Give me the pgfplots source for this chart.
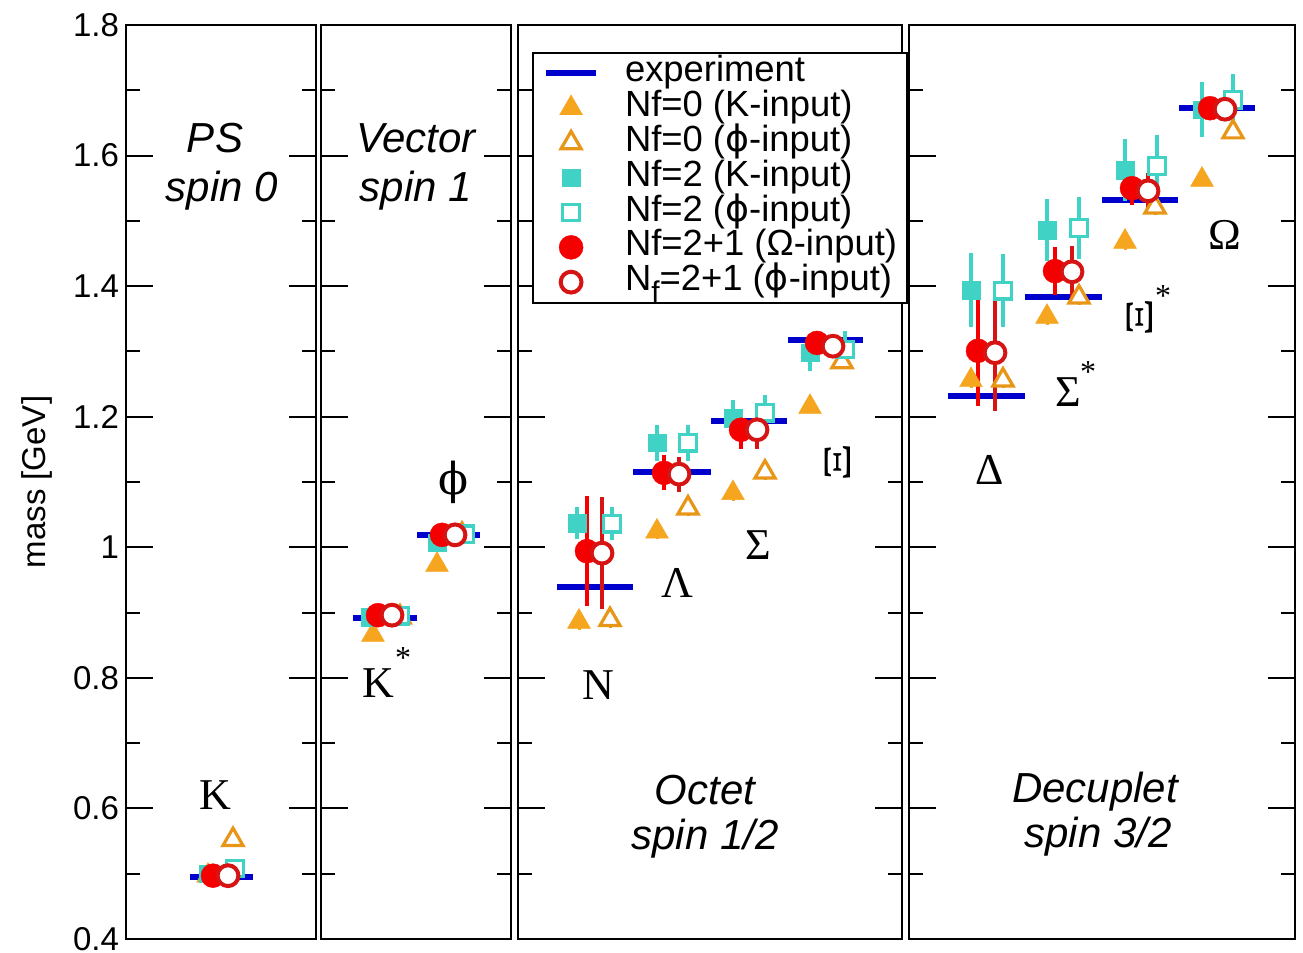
\documentclass[border=0pt]{standalone}
\usepackage{pgfplots}
\pgfplotsset{compat=1.18}
\usepackage{fontspec}
\setmainfont{Liberation Sans}
\newfontfamily\grk{Liberation Serif}
\newfontfamily\djv{DejaVu Sans}
\newfontfamily\djvs{DejaVu Serif}
\definecolor{expblue}{RGB}{0,0,205}
\definecolor{orng}{RGB}{245,165,30}
\definecolor{orngd}{RGB}{232,150,24}
\definecolor{turq}{RGB}{64,210,196}
\definecolor{rd}{RGB}{245,0,0}
\definecolor{rdd}{RGB}{215,20,20}
\pgfplotsset{
  panel/.style={scale only axis, height=457pt, ymin=0.4, ymax=1.8, xtick=\empty,
    ytick={0.4,0.6,0.8,1.0,1.2,1.4,1.6,1.8},
    minor ytick={0.5,0.7,0.9,1.1,1.3,1.5,1.7},
    yticklabels={,,,,,,,}, ytick pos=both, tick align=inside,
    major tick length=13.5pt, minor tick length=7pt,
    axis line style={line width=1pt}, tick style={black, line width=1pt},
    clip=false, anchor=south west},
  exp/.style={expblue, line width=3pt, unbounded coords=jump,
    legend image code/.code={\draw[expblue, line width=3pt] (-4pt,0pt) -- (21pt,0pt);}},
  n0k/.style={only marks, color=orng, mark=triangle*, mark size=6.6pt,
    mark options={fill=orng, draw=orng, line width=0.2pt},
    error bars/.cd, y dir=both, y explicit, error mark=none, error bar style={line width=1.5pt}},
  n0p/.style={only marks, color=orngd, mark=triangle*, mark size=5.8pt,
    mark options={fill=white, draw=orngd, line width=1.6pt},
    error bars/.cd, y dir=both, y explicit, error mark=none, error bar style={line width=1.5pt}},
  n2k/.style={only marks, color=turq, mark=square*, mark size=4.4pt,
    mark options={fill=turq, draw=turq, line width=0.2pt},
    error bars/.cd, y dir=both, y explicit, error mark=none, error bar style={line width=1.7pt}},
  n2p/.style={only marks, color=turq, mark=square*, mark size=4.1pt,
    mark options={fill=white, draw=turq, line width=1.6pt},
    error bars/.cd, y dir=both, y explicit, error mark=none, error bar style={line width=1.7pt}},
  n3o/.style={only marks, color=rd, mark=*, mark size=6pt,
    mark options={fill=rd, draw=rd, line width=0.2pt},
    error bars/.cd, y dir=both, y explicit, error mark=none, error bar style={line width=2pt}},
  n3p/.style={only marks, color=rdd, mark=*, mark size=5.2pt,
    mark options={fill=white, draw=rdd, line width=2pt},
    error bars/.cd, y dir=both, y explicit, error mark=none, error bar style={line width=2pt}},
}
\newcommand{\ttl}{\itshape\fontsize{21}{21}\selectfont}
\newcommand{\glab}{\grk\fontsize{22}{22}\selectfont}
\newcommand{\astk}{\grk\fontsize{16}{16}\selectfont}
\newcommand{\XI}{\scalebox{1.35}[0.88]{Ξ}}
\newcommand{\lphi}{{\djv ϕ}}
\begin{document}
\begin{tikzpicture}
\useasboundingbox (0,0) rectangle (651.5pt,476.5pt);
% ---------------- PS ----------------
\begin{axis}[panel, at={(63pt,7pt)}, width=95pt, xmin=126, xmax=316,
  yticklabels={0.4,0.6,0.8,1,1.2,1.4,1.6,1.8},
  yticklabel style={font=\fontsize{16.5}{18}\selectfont},
  ylabel={mass [GeV]},
  every axis y label/.style={at={(axis description cs:-0.468,0.5)}, rotate=90, anchor=center, font=\fontsize{16.5}{18}\selectfont}]
\addplot[exp] coordinates {(190,0.4957) (253,0.4957)};
\addplot[n0k] coordinates {(208,0.497) +- (0,0.004)};
\addplot[n0p] coordinates {(233,0.552) +- (0,0.005)};
\addplot[n2k] coordinates {(208,0.500) +- (0,0.006)};
\addplot[n2p] coordinates {(235,0.508) +- (0,0.006)};
\addplot[n3o] coordinates {(213,0.497) +- (0,0.004)};
\addplot[n3p] coordinates {(228,0.497) +- (0,0.004)};
\node[font=\ttl, anchor=base] at (axis cs:215,1.604) {PS};
\node[font=\ttl, anchor=base] at (axis cs:222,1.529) {spin 0};
\node[font=\glab] at (axis cs:215,0.6208) {K};
\end{axis}
% ---------------- Vector ----------------
\begin{axis}[panel, at={(160.5pt,7pt)}, width=95pt, xmin=321, xmax=511]
\addplot[exp] coordinates {(353,0.8917) (417,0.8917) (417,nan) (417,1.0195) (480,1.0195)};
\addplot[n0k] coordinates {(373,0.866) +- (0,0.008) (437,0.973) +- (0,0.008)};
\addplot[n0p] coordinates {(400,0.893) +- (0,0.008) (462,1.0195) +- (0,0.008)};
\addplot[n2k] coordinates {(370,0.893) +- (0,0.008) (437,1.007) +- (0,0.008)};
\addplot[n2p] coordinates {(400,0.895) +- (0,0.008) (465,1.020) +- (0,0.008)};
\addplot[n3o] coordinates {(378,0.896) +- (0,0.006) (442,1.019) +- (0,0.006)};
\addplot[n3p] coordinates {(392,0.896) +- (0,0.006) (455,1.019) +- (0,0.006)};
\node[font=\ttl, anchor=base] at (axis cs:416,1.604) {Vector};
\node[font=\ttl, anchor=base] at (axis cs:416,1.529) {spin 1};
\node[font=\glab] at (axis cs:378,0.7923) {K};
\node[font=\astk] at (axis cs:403,0.8306) {*};
\node[font=\djvs\fontsize{22}{22}\selectfont] at (axis cs:453,1.1002) {ϕ};
\end{axis}
% ---------------- Octet ----------------
\begin{axis}[panel, at={(259pt,7pt)}, width=192pt, xmin=518, xmax=902,
  legend style={at={(0.0365,0.9705)}, anchor=north west, draw=black, line width=1pt, fill=white,
    font=\fontsize{18.2}{18}\selectfont, inner xsep=5pt, inner ysep=1.5pt,
    legend cell align=left, row sep=0pt,
    nodes={inner sep=0pt, text height=13pt, text depth=4.4pt},
    /tikz/every odd column/.append style={column sep=13pt}}]
\addplot[exp] coordinates {(557,0.9389) (633,0.9389) (633,nan) (633,1.1157) (711,1.1157) (711,nan)
  (711,1.1930) (787,1.1930) (787,nan) (788,1.3180) (863,1.3180)};
\addlegendentry{experiment}
\addplot[n0k] coordinates {(579,0.886) +- (0,0.012) (657,1.024) +- (0,0.012) (733,1.083) +- (0,0.012) (810,1.215) +- (0,0.010)};
\addlegendentry{Nf=0 (K-input)}
\addplot[n0p] coordinates {(610,0.889) +- (0,0.012) (688,1.060) +- (0,0.012) (765,1.115) +- (0,0.012) (842,1.284) +- (0,0.010)};
\addlegendentry{Nf=0 (\lphi-input)}
\addplot[n2k] coordinates {(577,1.037) +- (0,0.025) (657,1.160) +- (0,0.028) (733,1.198) +- (0,0.028) (810,1.298) +- (0,0.028)};
\addlegendentry{Nf=2 (K-input)}
\addplot[n2p] coordinates {(612,1.036) +- (0,0.025) (688,1.160) +- (0,0.028) (765,1.206) +- (0,0.028) (845,1.303) +- (0,0.028)};
\addlegendentry{Nf=2 (\lphi-input)}
\addplot[n3o] coordinates {(587,0.994) +- (0,0.084) (664,1.114) +- (0,0.027) (741,1.180) +- (0,0.030) (817,1.313) +- (0,0.012)};
\addlegendentry{Nf=2+1 (Ω-input)}
\addplot[n3p] coordinates {(602,0.991) +- (0,0.086) (679,1.112) +- (0,0.027) (757,1.180) +- (0,0.030) (833,1.308) +- (0,0.015)};
\addlegendentry{N\raisebox{-0.6ex}{\fontsize{15}{15}\selectfont f}=2+1 (\lphi-input)}
\node[font=\ttl, anchor=base] at (axis cs:705,0.6055) {Octet};
\node[font=\ttl, anchor=base] at (axis cs:705,0.5366) {spin 1/2};
\node[font=\glab] at (axis cs:598,0.7893) {N};
\node[font=\glab] at (axis cs:677,0.9455) {Λ};
\node[font=\glab] at (axis cs:758,1.0037) {Σ};
\node[font=\glab, rotate=90] at (axis cs:838,1.1293) {\XI};
\end{axis}
% ---------------- Decuplet ----------------
\begin{axis}[panel, at={(454.5pt,7pt)}, width=193pt, xmin=909, xmax=1295]
\addplot[exp] coordinates {(948,1.2320) (1025,1.2320) (1025,nan) (1025,1.3837) (1102,1.3837) (1102,nan)
  (1102,1.5318) (1178,1.5318) (1178,nan) (1179,1.6725) (1255,1.6725)};
\addplot[n0k] coordinates {(971,1.256) +- (0,0.012) (1047,1.353) +- (0,0.012) (1125,1.468) +- (0,0.012) (1202,1.563) +- (0,0.010)};
\addplot[n0p] coordinates {(1003,1.256) +- (0,0.012) (1079,1.383) +- (0,0.012) (1155,1.521) +- (0,0.012) (1233,1.636) +- (0,0.010)};
\addplot[n2k] coordinates {(971,1.394) +- (0,0.056) (1047,1.486) +- (0,0.047) (1125,1.578) +- (0,0.048) (1202,1.670) +- (0,0.042)};
\addplot[n2p] coordinates {(1003,1.393) +- (0,0.056) (1079,1.489) +- (0,0.047) (1157,1.584) +- (0,0.048) (1233,1.685) +- (0,0.040)};
\addplot[n3o] coordinates {(978,1.301) +- (0,0.084) (1055,1.423) +- (0,0.037) (1132,1.550) +- (0,0.025) (1210,1.6725) +- (0,0.002)};
\addplot[n3p] coordinates {(995,1.298) +- (0,0.090) (1072,1.422) +- (0,0.040) (1148,1.546) +- (0,0.027) (1225,1.671) +- (0,0.005)};
\node[font=\ttl, anchor=base] at (axis cs:1095,0.6086) {Decuplet};
\node[font=\ttl, anchor=base] at (axis cs:1098,0.5397) {spin 3/2};
\node[font=\glab] at (axis cs:990,1.1185) {Δ};
\node[font=\glab] at (axis cs:1068,1.2380) {Σ};
\node[font=\astk] at (axis cs:1088,1.2686) {*};
\node[font=\glab, rotate=90] at (axis cs:1140,1.3528) {\XI};
\node[font=\astk] at (axis cs:1163,1.3850) {*};
\node[font=\glab] at (axis cs:1225,1.4784) {Ω};
\end{axis}
\end{tikzpicture}
\end{document}
